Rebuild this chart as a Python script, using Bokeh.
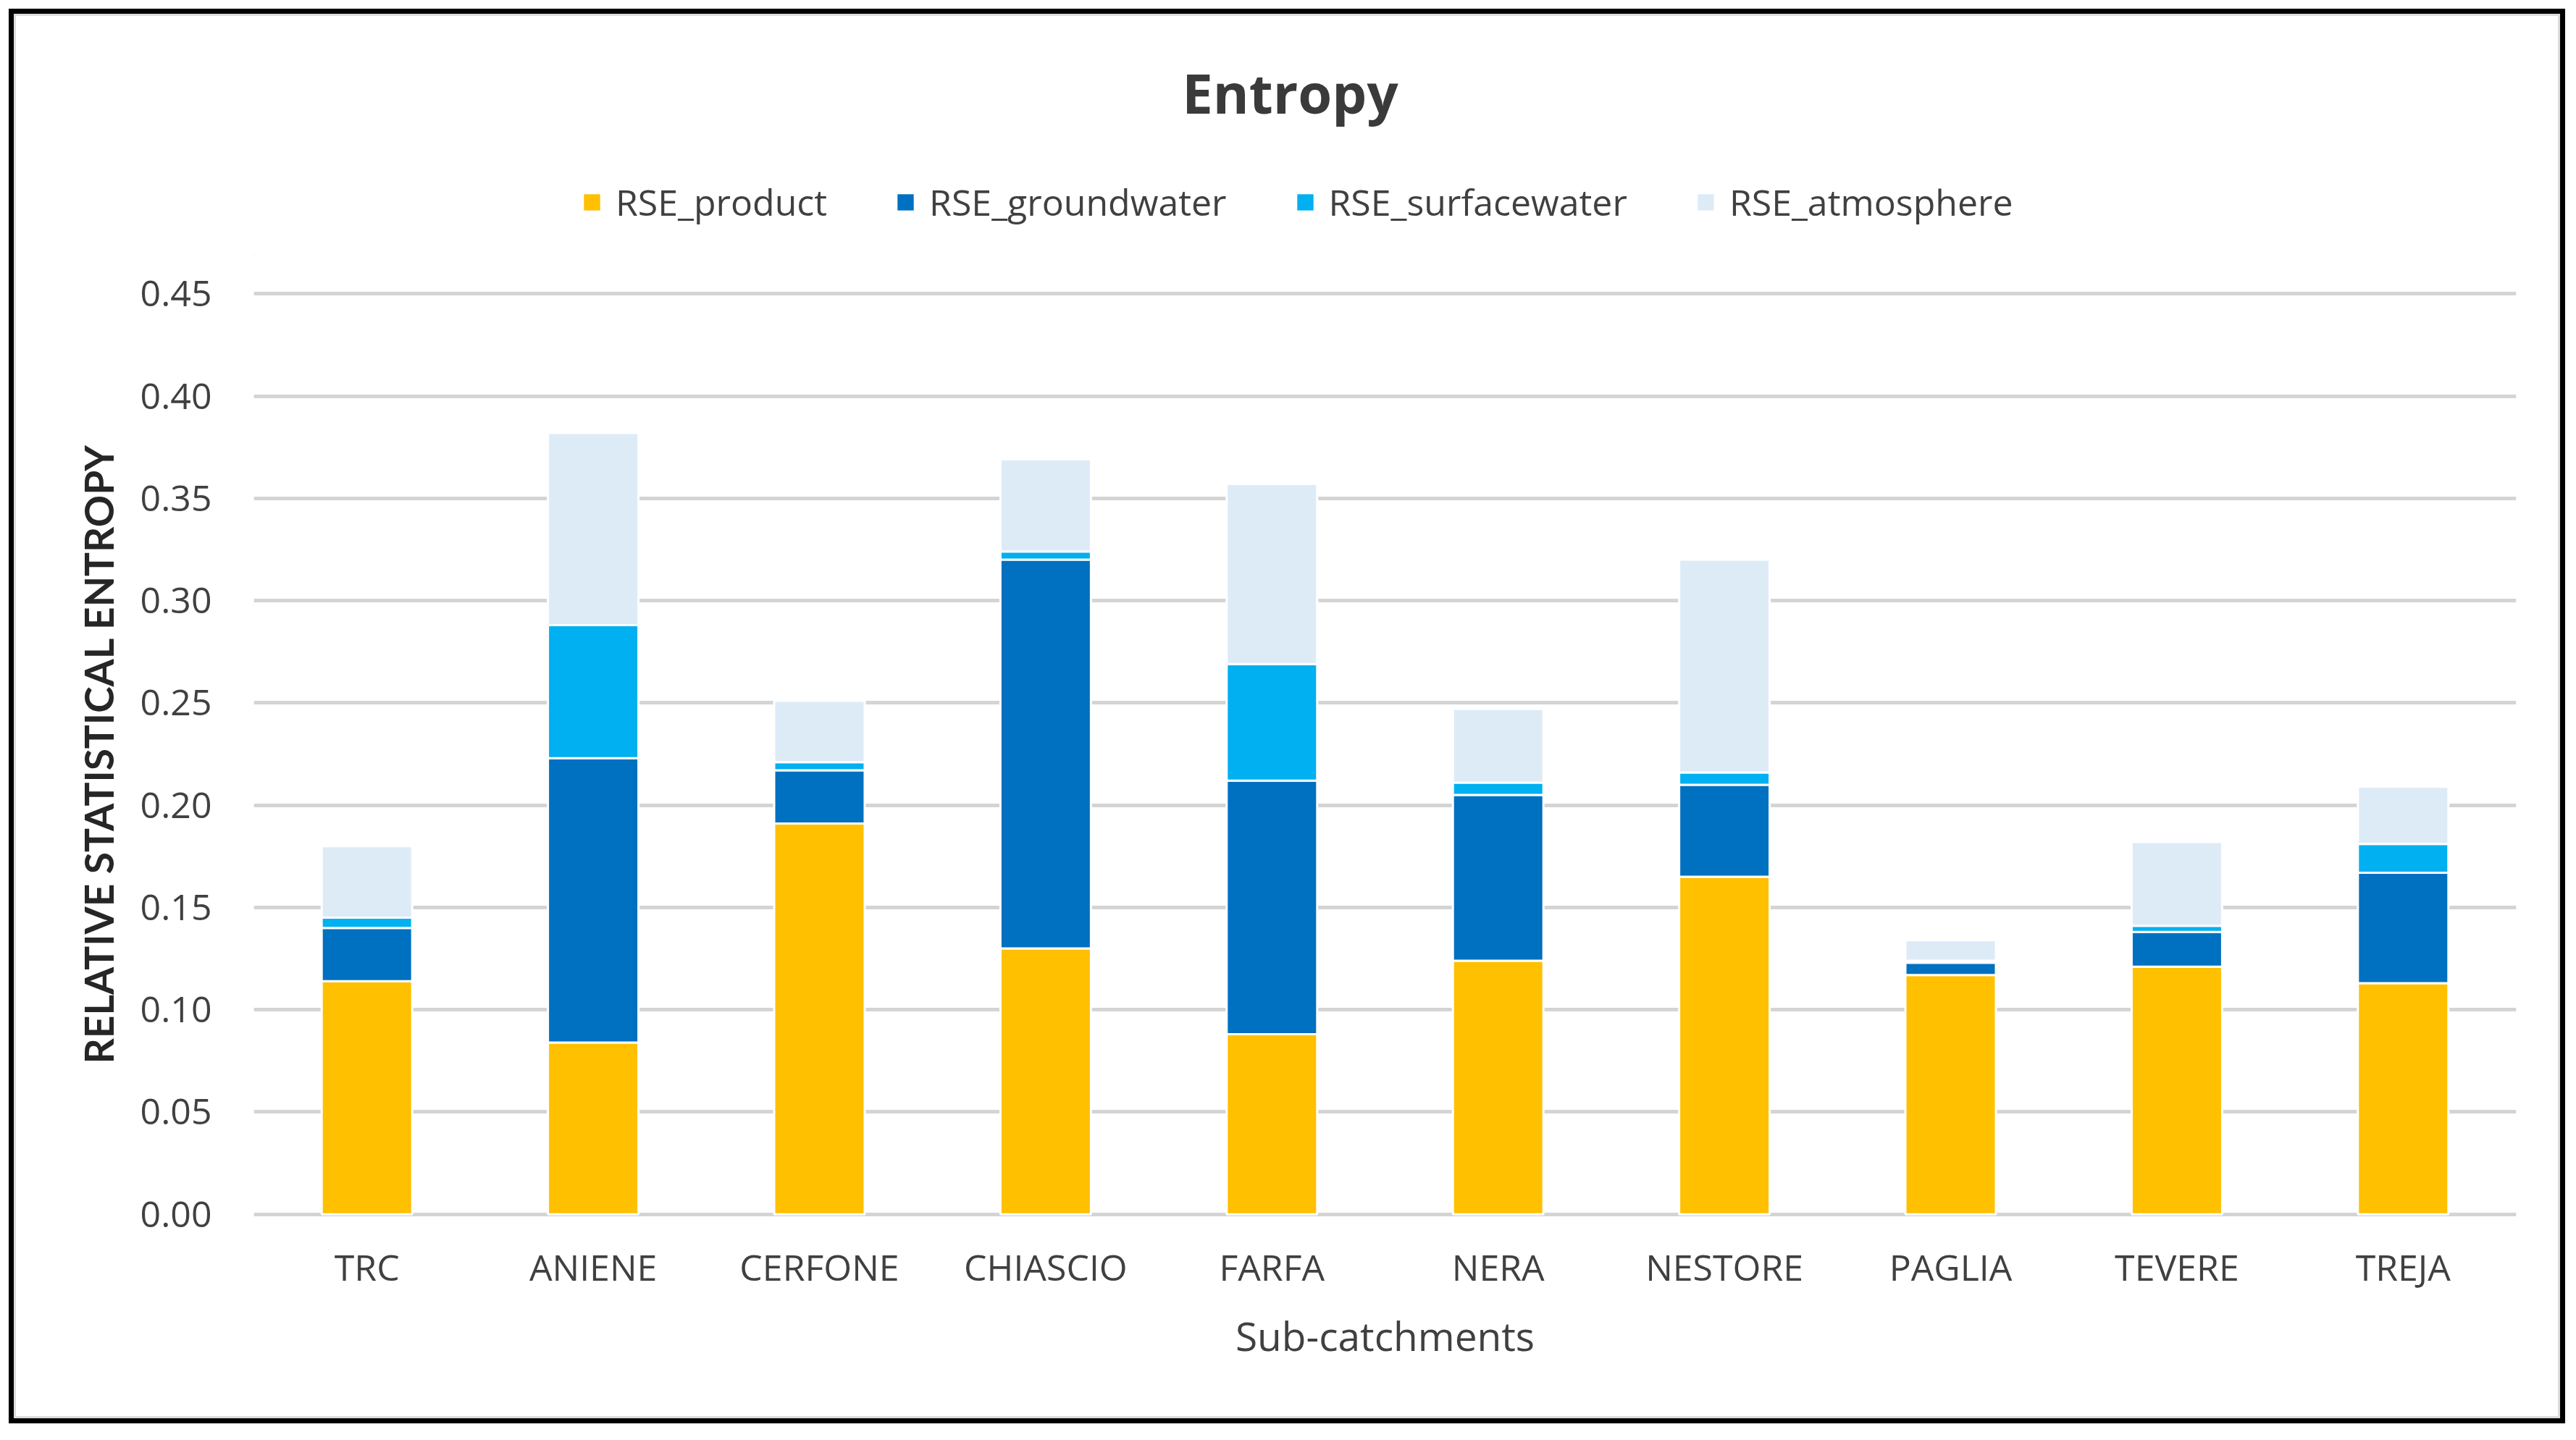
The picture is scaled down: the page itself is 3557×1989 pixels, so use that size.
from bokeh.plotting import figure
from bokeh.layouts import column, row
from bokeh.models import (Range1d, FactorRange, Legend, LegendItem, Label, Spacer,
                          NumeralTickFormatter, FixedTicker, ColumnDataSource)
from bokeh.embed import file_html
from bokeh.resources import INLINE

# ---- data ----
catchments = ["TRC", "ANIENE", "CERFONE", "CHIASCIO", "FARFA",
              "NERA", "NESTORE", "PAGLIA", "TEVERE", "TREJA"]
rse_product = [0.114, 0.084, 0.191, 0.130, 0.088, 0.124, 0.165, 0.117, 0.121, 0.113]
rse_groundwater = [0.026, 0.139, 0.026, 0.190, 0.124, 0.081, 0.045, 0.006, 0.017, 0.054]
rse_surfacewater = [0.005, 0.065, 0.004, 0.004, 0.057, 0.006, 0.006, 0.001, 0.003, 0.014]
rse_atmosphere = [0.035, 0.094, 0.030, 0.045, 0.088, 0.036, 0.104, 0.010, 0.041, 0.028]
series_names = ["RSE_product", "RSE_groundwater", "RSE_surfacewater", "RSE_atmosphere"]
series_colors = ["#FFC000", "#0070C0", "#00B0F0", "#DDEBF7"]
y_ticks = [0.0, 0.05, 0.10, 0.15, 0.20, 0.25, 0.30, 0.35, 0.40, 0.45]

W = 3510
H = 1934
HEADER_H = 330
LEFT, RIGHT = 328, 58
FRAME_W = W - LEFT - RIGHT

# ---------------- header: title + legend ----------------
header = figure(width=W, height=HEADER_H, x_range=Range1d(0, FRAME_W), y_range=Range1d(0, HEADER_H),
                output_backend="svg", toolbar_location=None,
                min_border_left=LEFT, min_border_right=RIGHT, min_border_top=0, min_border_bottom=0)
header.title = None
header.axis.visible = False
header.grid.grid_line_color = None
header.outline_line_color = None
header.background_fill_color = "white"
header.border_fill_color = "white"

# off-range swatch renderers, only used for the legend
legend_renderers = [header.vbar(x=[-10000], top=[1], width=1, fill_color=c, line_color=None)
                    for c in series_colors]
legend = Legend(items=[LegendItem(label=n, renderers=[r]) for n, r in zip(series_names, legend_renderers)],
                orientation="horizontal", location=(453, 39), margin=0, padding=0,
                spacing=94, glyph_width=28, glyph_height=28, label_standoff=19,
                label_text_font="Open Sans", label_text_font_size="50px",
                label_text_color="#404040", border_line_color=None,
                background_fill_alpha=0)
header.add_layout(legend, "center")

title = Label(x=1431, y=225, text="Entropy", text_align="center",
              text_baseline="alphabetic", text_font="Open Sans",
              text_font_style="bold", text_font_size="76px", text_color="#3a3a3a")
header.add_layout(title)

# ---------------- main chart ----------------
source = ColumnDataSource(data=dict(
    cat=catchments,
    RSE_product=rse_product,
    RSE_groundwater=rse_groundwater,
    RSE_surfacewater=rse_surfacewater,
    RSE_atmosphere=rse_atmosphere,
))

p = figure(width=W, height=H - HEADER_H,
           x_range=FactorRange(factors=catchments, range_padding=0),
           y_range=Range1d(-0.0015, 0.4515),
           output_backend="svg", toolbar_location=None,
           min_border_left=LEFT, min_border_right=RIGHT,
           min_border_top=379 - HEADER_H, min_border_bottom=275)
p.title = None
p.background_fill_color = "white"
p.border_fill_color = "white"
p.outline_line_color = None

p.vbar_stack(series_names, x="cat", width=0.4, source=source,
             fill_color=series_colors, line_color="white", line_width=3)

p.xgrid.grid_line_color = None
p.ygrid.grid_line_color = "#d4d4d4"
p.ygrid.grid_line_width = 5

p.yaxis.ticker = FixedTicker(ticks=y_ticks)
p.yaxis.formatter = NumeralTickFormatter(format="0.00")
p.yaxis.axis_line_color = None
p.yaxis.major_tick_line_color = None
p.yaxis.minor_tick_line_color = None
p.yaxis.major_label_standoff = 52
p.yaxis.major_label_text_font = "Open Sans"
p.yaxis.major_label_text_font_size = "50px"
p.yaxis.major_label_text_color = "#404040"
p.yaxis.axis_label = "RELATIVE STATISTICAL ENTROPY"
p.yaxis.axis_label_text_font = "Lato"
p.yaxis.axis_label_text_font_style = "bold"
p.yaxis.axis_label_text_font_size = "55px"
p.yaxis.axis_label_text_color = "#262626"
p.yaxis.axis_label_standoff = 22

p.xaxis.axis_line_color = None
p.xaxis.major_tick_line_color = None
p.xaxis.minor_tick_line_color = None
p.xaxis.major_label_standoff = 28
p.xaxis.major_label_text_font = "Open Sans"
p.xaxis.major_label_text_font_size = "50px"
p.xaxis.major_label_text_color = "#404040"
p.xaxis.axis_label = "Sub-catchments"
p.xaxis.axis_label_text_font = "Open Sans"
p.xaxis.axis_label_text_font_style = "normal"
p.xaxis.axis_label_text_font_size = "55px"
p.xaxis.axis_label_text_color = "#404040"
p.xaxis.axis_label_standoff = 20

chart = column(header, p, spacing=0)
chart.styles = {"outline": "7px solid #000000", "outline-offset": "3px",
                "box-shadow": "0 0 0 3px #dcdcdc"}

page = column(Spacer(width=W + 22, height=22), row(Spacer(width=22, height=H), chart, spacing=0), spacing=0)

open("out.html", "w").write(file_html(page, INLINE))
